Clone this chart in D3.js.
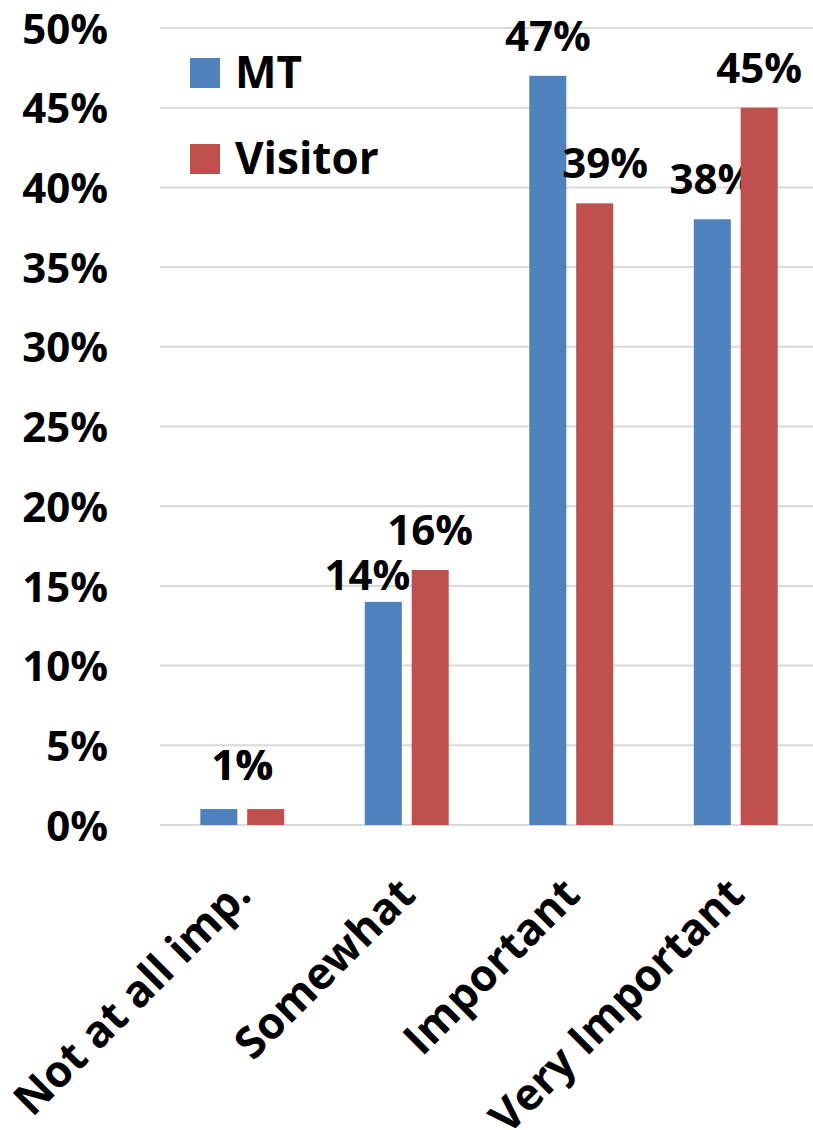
<!DOCTYPE html>
<html>
<head>
<meta charset="utf-8">
<script src="https://cdn.jsdelivr.net/npm/d3@7"></script>
<style>
  body { margin: 0; background: #fff; }
  text { font-family: "Open Sans", sans-serif; font-weight: bold; fill: #000; }
</style>
</head>
<body>
<div id="container"></div>
<script>
let w = 813;
let h = 1130;

// data
let categories = ["Not at all imp.", "Somewhat", "Important", "Very Important"];
let series = ["MT", "Visitor"];
let mtValues = [1, 14, 47, 38];
let visitorValues = [1, 16, 39, 45];
let yTicks = [0, 5, 10, 15, 20, 25, 30, 35, 40, 45, 50];
let colors = ["#4F81BD", "#C0504D"];

// label nudges (layout only, pixels) — some labels were moved by hand in the original
let nudgeX = [[23.5, -16, 0, 0], [-23.5, 0, 10.5, 0]];
let nudgeY = [[-4, 13, 0, 0], [-4, 0, 0, 0]];

let viz = d3.select("#container")
  .append("svg")
    .attr("width", w)
    .attr("height", h)
;

let xScale = d3.scaleBand().domain(categories).range([160, 818]);
let x1 = d3.scaleBand().domain(series).range([0, xScale.bandwidth()])
  .paddingInner(0.21).paddingOuter(0.86);
let yScale = d3.scaleLinear().domain([0, 50]).range([825, 28]);

// gridlines
viz.append("g").selectAll("line").data(yTicks).enter().append("line")
  .attr("x1", 160).attr("x2", 818)
  .attr("y1", d => yScale(d)).attr("y2", d => yScale(d))
  .attr("stroke", "#d9d9d9").attr("stroke-width", 2);

// y axis labels
let yAxis = d3.axisLeft(yScale).tickValues(yTicks).tickFormat(d => d + "%").tickSize(0).tickPadding(0);
let yAxisGroup = viz.append("g").attr("class", "yaxis")
  .attr("transform", "translate(108,0)")
  .call(yAxis);
yAxisGroup.select(".domain").remove();
yAxisGroup.selectAll("text")
  .attr("font-size", 42)
  .attr("font-family", "Open Sans")
  .attr("font-weight", "bold")
  .attr("dy", "0.36em");

// bars
let rows = series.map((s, i) => ({
  name: s,
  color: colors[i],
  values: (i == 0 ? mtValues : visitorValues).map((v, j) => ({cat: categories[j], v: v, j: j, i: i}))
}));

let graphGroup = viz.append("g").classed("graphGroup", true);
let serGroups = graphGroup.selectAll(".series").data(rows).enter().append("g").attr("class", "series");

serGroups.selectAll("rect").data(d => d.values).enter().append("rect")
  .attr("x", d => xScale(d.cat) + x1(series[d.i]))
  .attr("width", x1.bandwidth())
  .attr("y", d => yScale(d.v))
  .attr("height", d => yScale(0) - yScale(d.v))
  .attr("fill", d => colors[d.i]);

// value labels
serGroups.selectAll("text").data(d => d.values).enter().append("text")
  .attr("x", d => xScale(d.cat) + x1(series[d.i]) + x1.bandwidth() / 2 + nudgeX[d.i][d.j])
  .attr("y", d => yScale(d.v) - 25 + nudgeY[d.i][d.j])
  .attr("text-anchor", "middle")
  .attr("font-size", 42)
  .text(d => d.v + "%");

// category labels
viz.append("g").selectAll("text").data(categories).enter().append("text")
  .attr("transform", d => "translate(" + (xScale(d) + xScale.bandwidth() / 2 + 11) + ",897) rotate(-45)")
  .attr("text-anchor", "end")
  .attr("font-size", 44)
  .text(d => d);

// legend
let legend = viz.append("g").selectAll("g").data(series).enter().append("g")
  .attr("transform", (d, i) => "translate(190," + (58 + i * 86) + ")");
legend.append("rect").attr("width", 30).attr("height", 30).attr("fill", (d, i) => colors[i]);
legend.append("text").attr("x", 45).attr("y", 30).attr("font-size", 44).text(d => d);
</script>
</body>
</html>
